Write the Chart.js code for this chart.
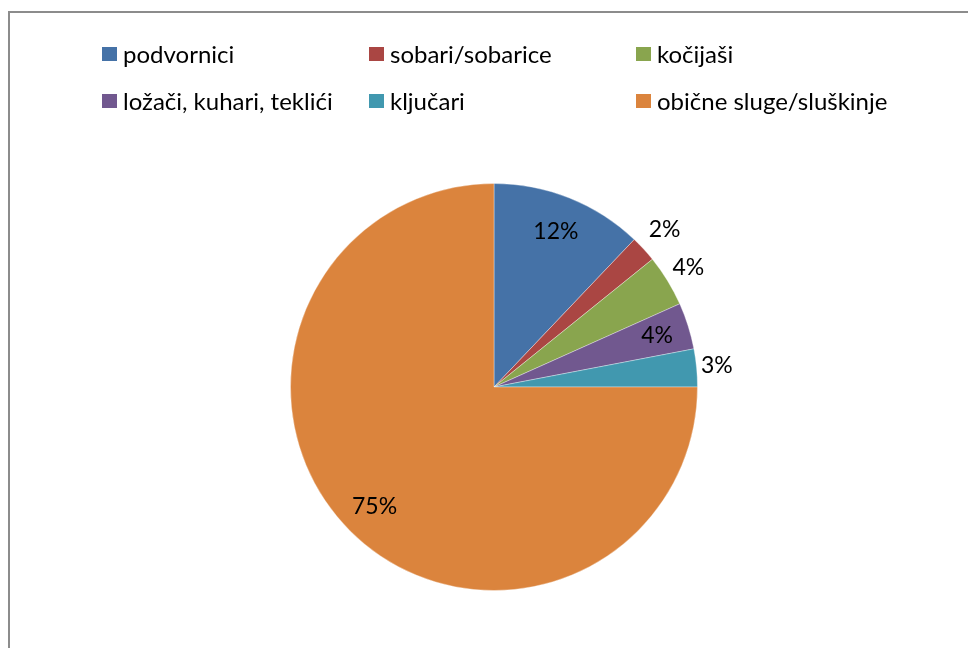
<!DOCTYPE html>
<html>
<head>
<meta charset="utf-8">
<script src="https://cdn.jsdelivr.net/npm/chart.js@4"></script>
<style>
  html, body { margin: 0; padding: 0; background: #fff; }
  #wrap { position: relative; width: 968px; height: 648px; overflow: hidden; }
  #frame { position: absolute; left: 8px; top: 11px; width: 1000px; height: 700px;
           border-left: 2px solid #8c8c8c; border-top: 2px solid #8c8c8c; }
  #chart { position: absolute; left: 0; top: 0; }
  #legend { position: absolute; left: 102px; top: 30px; display: grid;
            grid-template-columns: 267px 267px 300px; grid-auto-rows: 47px;
            font-family: Lato, "Open Sans", sans-serif; font-size: 24px; color: #000; }
  .item { display: flex; align-items: center; white-space: nowrap; }
  .box { width: 15px; height: 14px; margin-right: 6px; flex: none; }
</style>
</head>
<body>
<div id="wrap">
  <div id="frame"></div>
  <canvas id="chart" width="968" height="648"></canvas>
  <div id="legend"></div>
</div>
<script>
// categories and shares (percent of all servants)
const categories = ['podvornici', 'sobari/sobarice', 'kočijaši', 'ložači, kuhari, teklići', 'ključari', 'obične sluge/sluškinje'];
const shares = [12.1, 2.1, 4.1, 3.7, 3.0, 75.0];
const colors = ['#4572A7', '#AA4643', '#89A54E', '#71588F', '#4198AF', '#DB843D'];
// where each percent label sits, as a fraction of the radius
const labelRadius = [0.82, 1.14, 1.12, 0.84, 1.10, 0.83];

// legend, 3 columns x 2 rows
const legend = document.getElementById('legend');
categories.forEach(function(name, i) {
    const item = document.createElement('div');
    item.className = 'item';
    const box = document.createElement('span');
    box.className = 'box';
    box.style.background = colors[i];
    item.appendChild(box);
    item.appendChild(document.createTextNode(name));
    legend.appendChild(item);
});

const total = shares.reduce(function(a, b) { return a + b; }, 0);

const pctLabels = {
    id: 'pctLabels',
    afterDatasetsDraw(chart) {
        const ctx = chart.ctx;
        const meta = chart.getDatasetMeta(0);
        ctx.save();
        ctx.font = '23px Lato, "Open Sans", sans-serif';
        ctx.fillStyle = '#000';
        ctx.textAlign = 'center';
        ctx.textBaseline = 'middle';
        meta.data.forEach(function(arc, i) {
            const mid = (arc.startAngle + arc.endAngle) / 2;
            const r = arc.outerRadius * labelRadius[i];
            const x = arc.x + Math.cos(mid) * r;
            const y = arc.y + Math.sin(mid) * r;
            ctx.fillText(Math.round(shares[i] / total * 100) + '%', x, y);
        });
        ctx.restore();
    }
};

new Chart(document.getElementById('chart').getContext('2d'), {
    type: 'pie',
    data: {
        labels: categories,
        datasets: [{
            data: shares,
            backgroundColor: colors,
            borderColor: 'rgba(255,255,255,0.35)',
            borderWidth: 1
        }]
    },
    options: {
        responsive: false,
        animation: false,
        layout: { padding: { top: 183, bottom: 57, left: 290, right: 270 } },
        plugins: {
            legend: { display: false },
            tooltip: { enabled: false }
        }
    },
    plugins: [pctLabels]
});
</script>
</body>
</html>
